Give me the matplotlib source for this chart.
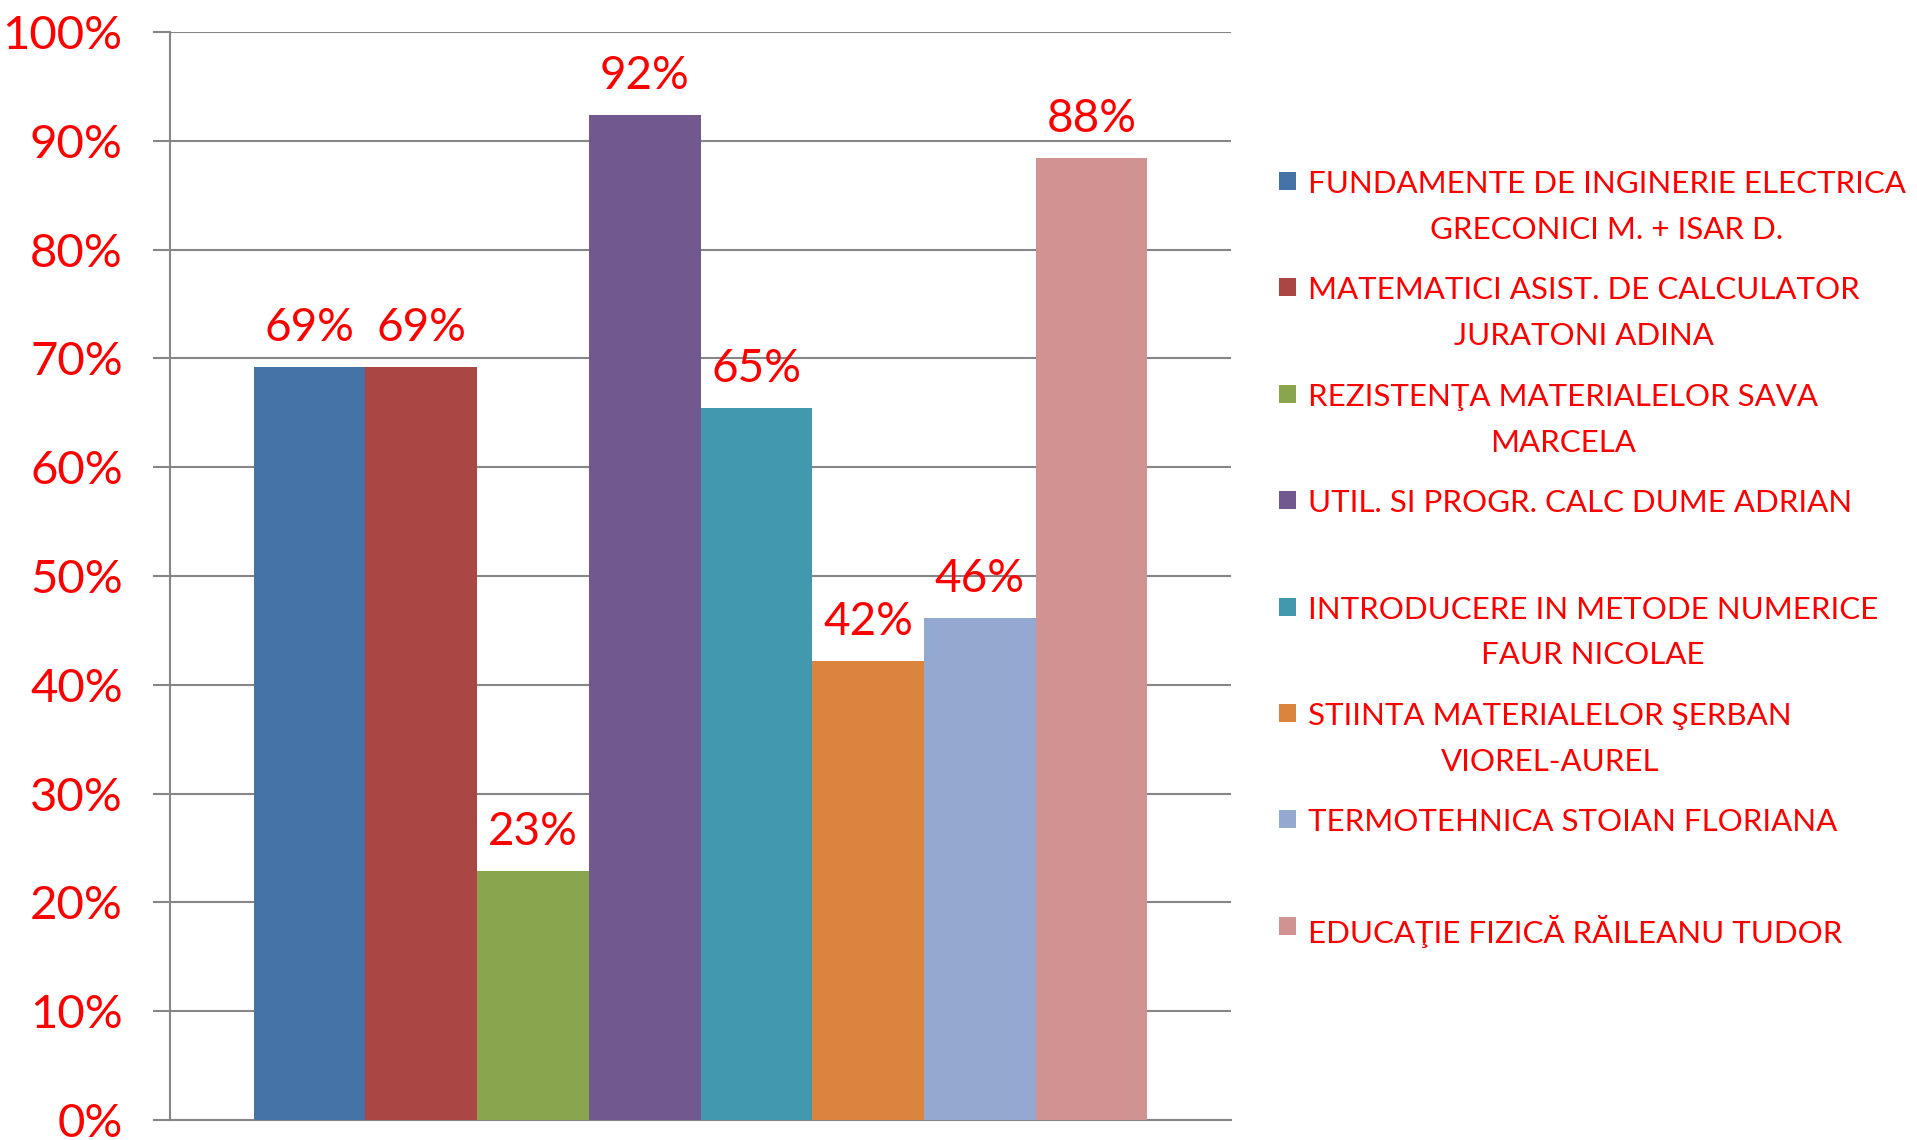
import matplotlib
matplotlib.use("Agg")
import matplotlib.pyplot as plt
import matplotlib.patches as patches
from matplotlib.ticker import FuncFormatter

plt.rcParams['font.family'] = ['Lato', 'DejaVu Sans']

# data
subjects = [
    "FUNDAMENTE DE INGINERIE ELECTRICA\nGRECONICI M. + ISAR D.",
    "MATEMATICI ASIST. DE CALCULATOR\nJURATONI ADINA",
    "REZISTENŢA MATERIALELOR SAVA\nMARCELA",
    "UTIL. SI PROGR. CALC DUME ADRIAN",
    "INTRODUCERE IN METODE NUMERICE\nFAUR NICOLAE",
    "STIINTA MATERIALELOR ŞERBAN\nVIOREL-AUREL",
    "TERMOTEHNICA STOIAN FLORIANA",
    "EDUCAŢIE FIZICĂ RĂILEANU TUDOR",
]
percent = [0.692, 0.692, 0.229, 0.924, 0.654, 0.422, 0.461, 0.884]
bar_colors = ['#4572A7', '#AA4643', '#89A54E', '#71588F',
              '#4198AF', '#DB843D', '#93A9CF', '#D19392']
yticks = [0, 0.1, 0.2, 0.3, 0.4, 0.5, 0.6, 0.7, 0.8, 0.9, 1.0]

W, H = 1917, 1140
fig = plt.figure(figsize=(W / 100, H / 100), dpi=100)
ax = fig.add_axes([170 / W, 20 / H, (1231 - 170) / W, (1120 - 32) / H])

xs = list(range(len(percent)))
bars = ax.bar(xs, percent, width=1.0, color=bar_colors, zorder=3)

for x, v in zip(xs, percent):
    ax.annotate(f"{round(v * 100)}%", (x, v), xytext=(0, 13), textcoords='offset points',
                ha='center', va='bottom', color='red', fontsize=33)

ax.set_xlim(-1.25, 8.25)
ax.set_ylim(0, 1.0)
ax.set_yticks(yticks)
ax.yaxis.set_major_formatter(FuncFormatter(lambda v, p: f"{round(v * 100)}%"))
ax.tick_params(axis='y', direction='out', length=12, width=1.5, color='#868686',
               labelcolor='red', labelsize=34, pad=22)
ax.set_xticks([])
ax.grid(axis='y', color='#868686', linewidth=1.5, zorder=0)
for side in ['top', 'right']:
    ax.spines[side].set_visible(False)
for side in ['left', 'bottom']:
    ax.spines[side].set_color('#868686')
    ax.spines[side].set_linewidth(1.5)

# legend drawn by hand, Excel style: fixed row slots, text top aligned
row0 = 181
step = 106.4
for i, (label, c) in enumerate(zip(subjects, bar_colors)):
    yc = row0 + i * step
    fig.patches.append(patches.Rectangle((1279 / W, 1 - (yc + 9) / H), 17 / W, 18 / H,
                                         transform=fig.transFigure, facecolor=c,
                                         edgecolor='none'))
    fig.text(1308 / W, 1 - (yc - 11) / H, label, ha='left', va='top',
             multialignment='center', color='red', fontsize=22.5, linespacing=1.77)

fig.savefig("out.png", dpi=100)
